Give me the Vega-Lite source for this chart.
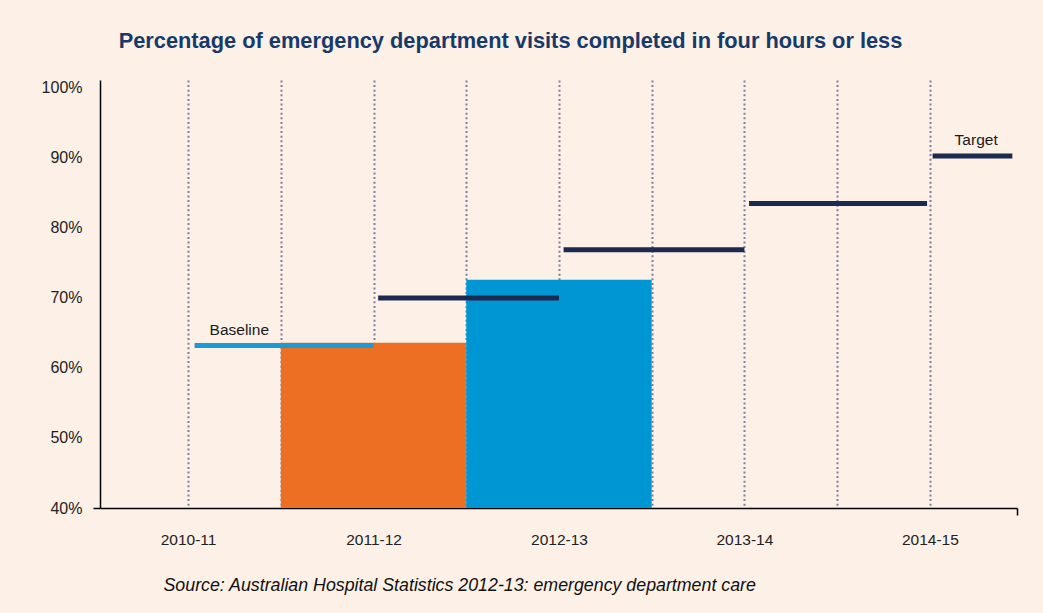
{
  "$schema": "https://vega.github.io/schema/vega-lite/v6.json",
  "autosize": {"type": "none"},
  "width": 917,
  "height": 428,
  "padding": {"left": 100, "top": 80, "right": 26, "bottom": 105},
  "background": "#FDF0E6",
  "title": {
    "text": "Percentage of emergency department visits completed in four hours or less",
    "font": "Liberation Sans",
    "fontSize": 21.8,
    "fontWeight": "bold",
    "color": "#173A6A",
    "anchor": "middle",
    "frame": "group",
    "dx": -48,
    "offset": 27
  },
  "config": {"view": {"stroke": null}},
  "datasets": {
    "bars": [
      {"year": "2011-12", "start": 2, "end": 4, "pct": 63.6},
      {"year": "2012-13", "start": 4, "end": 6, "pct": 72.6}
    ],
    "targets": [
      {"label": "Baseline", "start": 1.07, "end": 3.0, "pct": 63.2},
      {"label": "", "start": 3.05, "end": 5.0, "pct": 70.0},
      {"label": "", "start": 5.05, "end": 7.0, "pct": 76.9},
      {"label": "", "start": 7.05, "end": 8.97, "pct": 83.5},
      {"label": "Target", "start": 9.03, "end": 9.89, "pct": 90.3}
    ]
  },
  "encoding": {
    "x": {
      "field": "start",
      "type": "quantitative",
      "scale": {"domain": [0.05, 9.94], "nice": false, "zero": false},
      "axis": {
        "values": [1, 2, 3, 4, 5, 6, 7, 8, 9, 9.94],
        "grid": true,
        "gridColor": "#7E7E9E",
        "gridDash": [2, 2.6],
        "gridWidth": 2,
        "gridOpacity": {"condition": {"test": "datum.value > 9.5", "value": 0}, "value": 1},
        "ticks": true,
        "tickSize": 7,
        "tickColor": "#000000",
        "tickWidth": 1.5,
        "tickOpacity": {"condition": {"test": "datum.value > 9.5", "value": 1}, "value": 0},
        "domainColor": "#000000",
        "domainWidth": 1.5,
        "labelExpr": "datum.value == 1 ? '2010-11' : datum.value == 3 ? '2011-12' : datum.value == 5 ? '2012-13' : datum.value == 7 ? '2013-14' : datum.value == 9 ? '2014-15' : ''",
        "labelFont": "Liberation Sans",
        "labelFontSize": 15.5,
        "labelColor": "#222222",
        "labelPadding": 17,
        "title": "Source: Australian Hospital Statistics 2012-13: emergency department care",
        "titleFont": "Liberation Sans",
        "titleFontSize": 17.8,
        "titleFontStyle": "italic",
        "titleFontWeight": "normal",
        "titleColor": "#111111",
        "titleAnchor": "start",
        "titleAlign": "left",
        "titleBaseline": "middle",
        "titleX": 63,
        "titleY": 77
      }
    },
    "y": {
      "field": "pct",
      "type": "quantitative",
      "scale": {"domain": [40, 101.14], "nice": false, "zero": false},
      "axis": {
        "values": [40, 50, 60, 70, 80, 90, 100],
        "labelExpr": "datum.value + '%'",
        "grid": false,
        "ticks": true,
        "tickSize": 7,
        "tickColor": "#000000",
        "tickWidth": 1.5,
        "tickOpacity": {"condition": {"test": "datum.value == 40", "value": 1}, "value": 0},
        "domainColor": "#000000",
        "domainWidth": 1.5,
        "labelFont": "Liberation Sans",
        "labelFontSize": 16,
        "labelColor": "#222222",
        "labelPadding": 11,
        "title": null
      }
    }
  },
  "layer": [
    {
      "data": {"name": "bars"},
      "mark": {"type": "bar"},
      "encoding": {
        "x2": {"field": "end"},
        "y2": {"datum": 40},
        "color": {
          "field": "year",
          "type": "nominal",
          "scale": {"domain": ["2011-12", "2012-13"], "range": ["#EC6F23", "#0096D4"]},
          "legend": null
        }
      }
    },
    {
      "data": {"name": "targets"},
      "mark": {"type": "rule", "strokeWidth": 5, "strokeCap": "butt"},
      "encoding": {
        "x2": {"field": "end"},
        "color": {
          "condition": {"test": "datum.label == 'Baseline'", "value": "#1A9AD6"},
          "value": "#1B2A4E"
        }
      }
    },
    {
      "data": {"name": "targets"},
      "transform": [{"filter": "datum.label == 'Baseline'"}],
      "mark": {"type": "text", "align": "left", "baseline": "middle", "dx": 15, "dy": -16, "font": "Liberation Sans", "fontSize": 15.5, "color": "#1A1A1A"},
      "encoding": {"text": {"field": "label"}}
    },
    {
      "data": {"name": "targets"},
      "transform": [{"filter": "datum.label == 'Target'"}],
      "mark": {"type": "text", "align": "left", "baseline": "middle", "dx": 22, "dy": -16, "font": "Liberation Sans", "fontSize": 15.5, "color": "#1A1A1A"},
      "encoding": {"text": {"field": "label"}}
    }
  ]
}
